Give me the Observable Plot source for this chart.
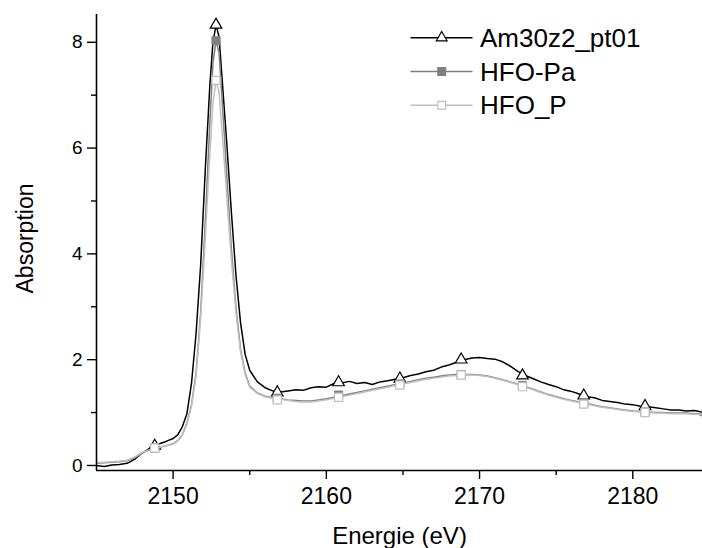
<!DOCTYPE html>
<html>
<head>
<meta charset="utf-8">
<script src="https://cdn.jsdelivr.net/npm/d3@7"></script>
<script src="https://cdn.jsdelivr.net/npm/@observablehq/plot@0.6"></script>
<style>
  body { margin: 0; background: #fff; }
  svg { display: block; }
</style>
</head>
<body>
<div id="chart"></div>
<script>
// ---- data ----
const energy = [
  2145.0, 2145.5, 2146.0, 2146.5, 2147.0, 2147.5, 2148.0, 2148.5, 2149.0, 2149.5,
  2150.0, 2150.3, 2150.6, 2150.9, 2151.2, 2151.5, 2151.8, 2152.1, 2152.4, 2152.6,
  2152.8, 2153.0, 2153.2, 2153.5, 2153.8, 2154.1, 2154.4, 2154.7,
  2155.0, 2155.5, 2156.0, 2156.5, 2157.0, 2157.5, 2158.0, 2158.5, 2159.0, 2159.5,
  2160.0, 2160.5, 2161.0, 2161.5, 2162.0, 2162.5, 2163.0, 2163.5, 2164.0, 2164.5,
  2165.0, 2165.5, 2166.0, 2166.5, 2167.0, 2167.5, 2168.0, 2168.5, 2169.0, 2169.5,
  2170.0, 2170.5, 2171.0, 2171.5, 2172.0, 2172.5, 2173.0, 2173.5, 2174.0, 2174.5,
  2175.0, 2175.5, 2176.0, 2176.5, 2177.0, 2177.5, 2178.0, 2178.5, 2179.0, 2179.5,
  2180.0, 2180.5, 2181.0, 2181.5, 2182.0, 2182.5, 2183.0, 2183.5, 2184.0, 2184.5
];
const am30 = [
  0.00, -0.02, 0.01, 0.02, 0.04, 0.12, 0.24, 0.33, 0.40, 0.45,
  0.51, 0.58, 0.73, 0.98, 1.55, 2.50, 3.80, 5.60, 7.20, 8.00,
  8.33, 8.10, 7.30, 6.10, 4.80, 3.60, 2.70, 2.10,
  1.80, 1.58, 1.47, 1.41, 1.39, 1.41, 1.43, 1.42, 1.47, 1.49,
  1.48, 1.55, 1.56, 1.59, 1.55, 1.57, 1.53, 1.58, 1.60, 1.63,
  1.66, 1.70, 1.73, 1.77, 1.80, 1.86, 1.90, 1.95, 2.00, 2.03,
  2.04, 2.02, 2.01, 1.96, 1.88, 1.78, 1.70, 1.64, 1.58, 1.53,
  1.49, 1.43, 1.40, 1.35, 1.30, 1.28, 1.23, 1.21, 1.19, 1.16,
  1.15, 1.12, 1.11, 1.09, 1.07, 1.05, 1.05, 1.03, 1.04, 1.01
];
const hfoPa = [
  0.04, 0.05, 0.06, 0.07, 0.09, 0.15, 0.24, 0.30, 0.34, 0.37,
  0.41, 0.47, 0.58, 0.80, 1.15, 1.75, 2.90, 4.60, 6.50, 7.60,
  8.03, 7.80, 6.90, 5.50, 4.10, 3.00, 2.20, 1.75,
  1.50, 1.37, 1.31, 1.28, 1.26, 1.24, 1.23, 1.22, 1.22, 1.24,
  1.26, 1.29, 1.32, 1.35, 1.38, 1.41, 1.44, 1.47, 1.50, 1.53,
  1.56, 1.59, 1.62, 1.65, 1.67, 1.69, 1.71, 1.72, 1.72, 1.72,
  1.71, 1.69, 1.66, 1.62, 1.58, 1.54, 1.49, 1.44, 1.39, 1.34,
  1.30, 1.26, 1.23, 1.20, 1.17, 1.14, 1.11, 1.09, 1.07, 1.05,
  1.03, 1.02, 1.01, 1.00, 1.00, 0.99, 0.99, 0.99, 0.98, 0.98
];
const hfoP = [
  0.05, 0.06, 0.07, 0.08, 0.10, 0.16, 0.25, 0.30, 0.34, 0.37,
  0.40, 0.46, 0.57, 0.78, 1.12, 1.70, 2.80, 4.30, 5.90, 6.85,
  7.28, 7.05, 6.30, 5.10, 3.90, 2.90, 2.15, 1.72,
  1.48, 1.36, 1.30, 1.27, 1.25, 1.23, 1.21, 1.20, 1.20, 1.22,
  1.24, 1.27, 1.30, 1.33, 1.36, 1.39, 1.42, 1.45, 1.48, 1.51,
  1.54, 1.57, 1.60, 1.63, 1.65, 1.67, 1.69, 1.70, 1.71, 1.71,
  1.70, 1.68, 1.65, 1.61, 1.57, 1.53, 1.48, 1.43, 1.38, 1.33,
  1.29, 1.25, 1.22, 1.19, 1.16, 1.13, 1.10, 1.08, 1.06, 1.04,
  1.02, 1.01, 1.00, 0.99, 0.99, 0.98, 0.98, 0.98, 0.97, 0.97
];

// symbol positions (every 4 eV)
const markerEnergy = [2148.8, 2152.8, 2156.8, 2160.8, 2164.8, 2168.8, 2172.8, 2176.8, 2180.8, 2184.8];
const markerAm30  = [0.37, 8.33, 1.38, 1.57, 1.64, 2.00, 1.70, 1.32, 1.12, 1.02];
const markerPa    = [0.33, 8.03, 1.27, 1.33, 1.54, 1.72, 1.51, 1.18, 1.01, 0.98];
const markerP     = [0.33, 7.28, 1.24, 1.29, 1.52, 1.71, 1.49, 1.16, 1.00, 0.97];

const seriesNames = ["Am30z2_pt01", "HFO-Pa", "HFO_P"];
const xTicks = [2150, 2160, 2170, 2180];
const xMinor = [2155, 2165, 2175];
const yTicks = [0, 2, 4, 6, 8];
const yMinor = [1, 3, 5, 7];
const xLabel = "Energie (eV)";
const yLabel = "Absorption";

// ---- build tables ----
const lineAm = energy.map((e, i) => ({e, v: am30[i]}));
const linePa = energy.map((e, i) => ({e, v: hfoPa[i]}));
const lineP  = energy.map((e, i) => ({e, v: hfoP[i]}));
const mkAm = markerEnergy.map((e, i) => ({e, v: markerAm30[i]}));
const mkPa = markerEnergy.map((e, i) => ({e, v: markerPa[i]}));
const mkP  = markerEnergy.map((e, i) => ({e, v: markerP[i]}));

const xMin = 2145, xMax = 2184.55, yMin = -0.095, yMax = 8.525;
const FONT = "'Liberation Sans', Arial, Helvetica, sans-serif";
const cBlack = "#000000", cPa = "#808080", cP = "#c0c0c0";

const svg = Plot.plot({
  width: 702,
  height: 548,
  marginLeft: 96,
  marginRight: 0,
  marginTop: 14,
  marginBottom: 78,
  style: {fontFamily: FONT, color: "#000", background: "#fff", overflow: "hidden"},
  x: {domain: [xMin, xMax]},
  y: {domain: [yMin, yMax]},
  marks: [
    Plot.line(lineAm, {x: "e", y: "v", stroke: cBlack, strokeWidth: 1.5, clip: true}),
    Plot.dot(mkAm, {x: "e", y: "v", symbol: "triangle", r: 4.3, fill: "#fff", stroke: cBlack, strokeWidth: 1.2}),
    Plot.line(linePa, {x: "e", y: "v", stroke: cPa, strokeWidth: 1.5, clip: true}),
    Plot.dot(mkPa, {x: "e", y: "v", symbol: "square", r: 4.6, fill: cPa, stroke: cPa, strokeWidth: 1}),
    Plot.line(lineP,  {x: "e", y: "v", stroke: cP, strokeWidth: 1.5, clip: true}),
    Plot.dot(mkP,  {x: "e", y: "v", symbol: "square", r: 4.6, fill: "#fff", stroke: cP, strokeWidth: 1.2}),
    Plot.ruleY([yMin], {stroke: "#000", strokeWidth: 1.6}),
    Plot.ruleX([xMin], {stroke: "#000", strokeWidth: 1.6}),
    Plot.axisX({ticks: xTicks, tickSize: 9, tickPadding: 8, fontSize: 23, tickFormat: d3.format("d"), label: null, strokeWidth: 1.4}),
    Plot.axisX({ticks: xMinor, tickSize: 5, tickFormat: () => "", label: null, strokeWidth: 1.4}),
    Plot.axisY({ticks: yTicks, tickSize: 9, tickPadding: 5, fontSize: 19, tickFormat: d3.format("d"), label: null, strokeWidth: 1.4}),
    Plot.axisY({ticks: yMinor, tickSize: 5, tickFormat: () => "", label: null, strokeWidth: 1.4}),
    Plot.text([xLabel], {text: d => d, frameAnchor: "bottom", textAnchor: "middle", lineAnchor: "middle", dy: 66, fontSize: 24, fill: "#000"}),
    Plot.text([yLabel], {text: d => d, frameAnchor: "left", textAnchor: "middle", lineAnchor: "middle", rotate: -90, dx: -71, dy: -4, fontSize: 23, fill: "#000"})
  ]
});

// ---- legend (top right) ----
const lg = d3.select(svg).append("g").attr("font-family", FONT).attr("text-anchor", "start");
const legendItems = [
  {name: seriesNames[0], stroke: cBlack, symbol: d3.symbolTriangle, r: 4.0, fill: "#fff", mstroke: cBlack},
  {name: seriesNames[1], stroke: cPa, symbol: d3.symbolSquare, r: 4.4, fill: cPa, mstroke: cPa},
  {name: seriesNames[2], stroke: cP, symbol: d3.symbolSquare, r: 4.4, fill: "#fff", mstroke: cP}
];
legendItems.forEach((it, i) => {
  const y = 37.7 + i * 33.8;
  lg.append("line").attr("x1", 410.5).attr("x2", 472.5).attr("y1", y).attr("y2", y)
    .attr("stroke", it.stroke).attr("stroke-width", 1.5);
  lg.append("path").attr("transform", `translate(441.7,${y})`)
    .attr("d", d3.symbol(it.symbol, Math.PI * it.r * it.r)())
    .attr("fill", it.fill).attr("stroke", it.mstroke).attr("stroke-width", 1.2);
  lg.append("text").attr("x", 480).attr("y", y + 9).attr("font-size", 26).attr("fill", "#000")
    .attr("text-anchor", "start").text(it.name);
});

document.getElementById("chart").appendChild(svg);
</script>
</body>
</html>
